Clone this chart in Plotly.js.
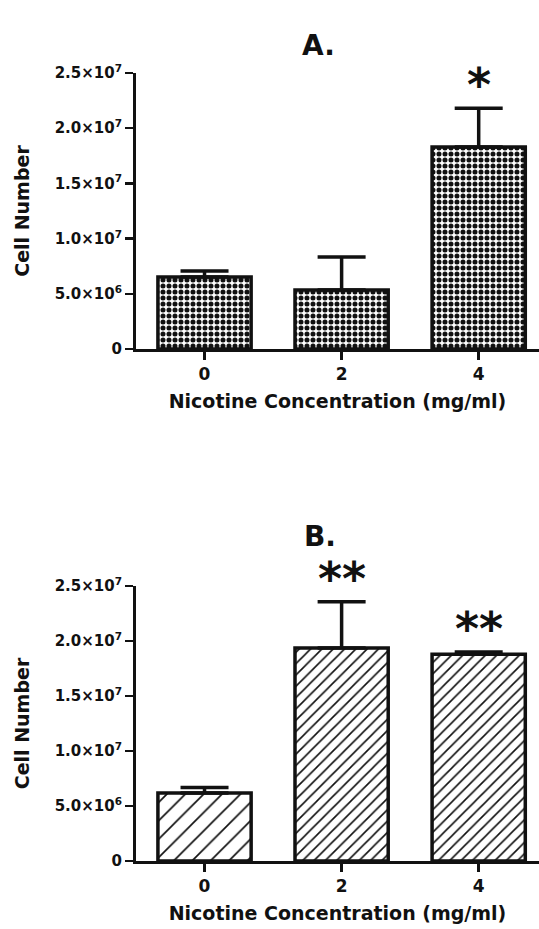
<!DOCTYPE html>
<html><head><meta charset="utf-8">
<script src="https://cdn.plot.ly/plotly-3.0.1.min.js"></script>
<style>html,body{margin:0;padding:0;background:#fff}#chart{width:539px;height:929px}</style>
</head><body><div id="chart"></div>
<script>
// ---- data ----
const categories = ['0', '2', '4'];
const cellsA = [6.52e6, 5.34e6, 1.83e7];
const errA = [0.55e6, 3.0e6, 3.5e6];
const cellsB = [6.18e6, 1.936e7, 1.88e7];
const errB = [0.5e6, 4.2e6, 0.2e6];
const sigA = ['', '', '*'];
const sigB = ['', '**', '**'];
const yTickVals = [0, 5e6, 1e7, 1.5e7, 2e7, 2.5e7];
const yTickText = ['0', '5.0×10<sup>6</sup>', '1.0×10<sup>7</sup>', '1.5×10<sup>7</sup>', '2.0×10<sup>7</sup>', '2.5×10<sup>7</sup>'];
const panelTitles = ['A.', 'B.'];
const xTitle = 'Nicotine Concentration (mg/ml)';
const yTitle = 'Cell Number';

// ---- styling ----
const FONT = 'DejaVu Sans, Arial, sans-serif';
const INK = '#111';

function barTrace(vals, errs, pattern, xa, ya) {
  return {
    type: 'bar', x: categories, y: vals, xaxis: xa, yaxis: ya, width: 0.68,
    marker: { color: '#fff', line: { color: INK, width: 3.5 }, pattern: pattern },
    error_y: { type: 'data', symmetric: false, array: errs, arrayminus: errs.map(() => 0),
               color: INK, thickness: 3.5, width: 24 },
    hoverinfo: 'x+y', showlegend: false
  };
}

const traces = [
  barTrace(cellsA, errA, { shape: '.', size: 6, solidity: 0.55, fgcolor: INK, bgcolor: '#fff', fillmode: 'replace' }, 'x', 'y'),
  barTrace(cellsB, errB, { shape: '/', size: [13, 8, 8], solidity: [0.13, 0.2, 0.2], fgcolor: INK, bgcolor: '#fff', fillmode: 'replace' }, 'x2', 'y2')
];

function xAxis(anchor) {
  return {
    anchor: anchor, domain: [0.2523, 1], range: [-0.5, 2.44], type: 'category',
    showline: true, linecolor: INK, linewidth: 3, showgrid: false, zeroline: false,
    ticks: 'outside', ticklen: 8, tickwidth: 2.5, tickcolor: INK,
    tickfont: { family: FONT, size: 17, color: INK, weight: 'bold' },
    title: { text: xTitle, font: { family: FONT, size: 19, color: INK, weight: 'bold' }, standoff: 12 },
    fixedrange: true, automargin: false
  };
}
function yAxis(anchor, domain) {
  return {
    anchor: anchor, domain: domain, range: [0, 2.5e7],
    showline: true, linecolor: INK, linewidth: 3, showgrid: false, zeroline: false,
    ticks: 'outside', ticklen: 8, tickwidth: 2.5, tickcolor: INK,
    tickmode: 'array', tickvals: yTickVals, ticktext: yTickText,
    tickfont: { family: FONT, size: 15, color: INK, weight: 'bold' },
    title: { text: yTitle, font: { family: FONT, size: 19, color: INK, weight: 'bold' }, standoff: 21 },
    fixedrange: true, automargin: false
  };
}

const annotations = [];
function addSig(sig, vals, errs, xa, ya) {
  sig.forEach((s, i) => {
    if (!s) return;
    // category axis: refer to the category by its index
    annotations.push({ x: i, y: vals[i] + errs[i], xref: xa, yref: ya, text: s,
      showarrow: false, yanchor: 'bottom', yshift: -6,
      font: { family: FONT, size: 46, color: INK, weight: 'bold' } });
  });
}
addSig(sigA, cellsA, errA, 'x', 'y');
addSig(sigB, cellsB, errB, 'x2', 'y2');
annotations.push({ text: panelTitles[0], xref: 'paper', yref: 'paper', x: 0.59, y: 0.971, showarrow: false,
  font: { family: FONT, size: 28, color: INK, weight: 'bold' } });
annotations.push({ text: panelTitles[1], xref: 'paper', yref: 'paper', x: 0.594, y: 0.422, showarrow: false,
  font: { family: FONT, size: 28, color: INK, weight: 'bold' } });

const layout = {
  width: 539, height: 929,
  margin: { l: 0, r: 0, t: 0, b: 0 },
  paper_bgcolor: '#fff', plot_bgcolor: '#fff',
  xaxis: xAxis('y'), yaxis: yAxis('x', [0.6243, 0.9214]),
  xaxis2: xAxis('y2'), yaxis2: yAxis('x2', [0.0732, 0.3692]),
  annotations: annotations, bargap: 0.3
};

Plotly.newPlot('chart', traces, layout, { displayModeBar: false, staticPlot: true });
</script>
</body></html>
